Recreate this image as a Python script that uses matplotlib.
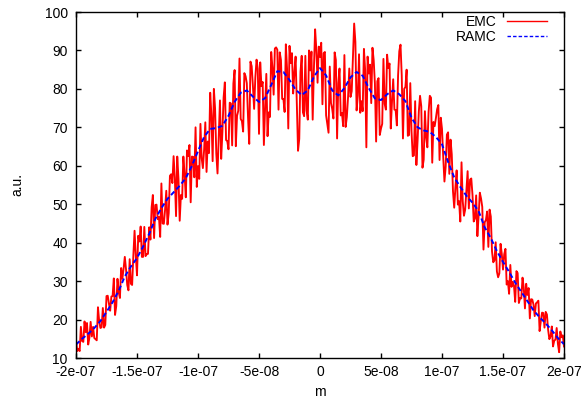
import numpy as np
import matplotlib
matplotlib.use("Agg")
import matplotlib.pyplot as plt

plt.rcParams['font.family'] = ['Liberation Sans', 'DejaVu Sans']
plt.rcParams['font.size'] = 10

x_min, x_max = -2e-7, 2e-7

# EMC samples at x = -200, -198, ..., 200 (nm)
emc_even = [
    14.9, 12.4, 18.1, 14.2, 16.7, 13.5, 19.4, 18.1, 14.9, 23.2,
    17.8, 23.0, 18.6, 26.2, 22.3, 26.1, 21.2, 30.6, 25.6, 30.6,
    36.3, 29.0, 35.7, 29.0, 43.1, 31.5, 40.3, 36.3, 44.1, 37.0,
    44.0, 49.2, 41.2, 49.9, 46.7, 55.4, 44.9, 53.5, 47.7, 57.8,
    62.5, 46.9, 56.6, 52.4, 62.4, 51.8, 62.5, 50.5, 62.3, 70.0,
    59.9, 70.9, 59.4, 71.3, 66.3, 79.0, 61.2, 74.9, 58.0, 77.0,
    68.7, 81.7, 66.4, 76.4, 65.3, 84.9, 73.0, 87.9, 71.6, 84.1,
    81.5, 65.7, 85.9, 74.8, 87.6, 68.3, 80.7, 65.4, 83.9, 73.9,
    89.6, 78.5, 90.8, 74.6, 87.5, 77.4, 91.6, 69.7, 86.7, 78.8,
    88.4, 63.9, 84.4, 73.9, 88.6, 72.0, 84.8, 72.0, 95.5, 81.6,
    88.3, 76.0, 89.6, 70.9, 85.8, 74.8, 89.5, 67.1, 85.3, 73.7,
    88.8, 72.7, 85.3, 79.4, 97.0, 74.4, 89.0, 76.8, 90.4, 64.8,
    84.0, 76.3, 87.5, 66.3, 82.8, 69.7, 87.8, 74.6, 85.4, 69.7,
    82.5, 74.5, 83.5, 91.5, 67.1, 80.5, 67.8, 81.5, 62.5, 76.8,
    66.6, 78.2, 59.5, 74.2, 64.8, 78.2, 60.8, 70.3, 74.7, 61.5,
    69.6, 55.9, 68.1, 57.9, 63.0, 49.1, 58.8, 50.8, 60.9, 47.0,
    53.5, 48.9, 56.7, 45.5, 52.3, 46.9, 51.5, 38.2, 45.9, 38.9,
    46.8, 34.9, 40.1, 31.0, 39.7, 33.0, 38.4, 30.0, 34.2, 29.8,
    24.6, 32.1, 25.6, 30.9, 22.9, 26.4, 20.3, 25.2, 20.9, 24.5,
    17.0, 21.8, 17.9, 21.3, 14.9, 18.2, 14.5, 17.8, 11.5, 15.4,
    13.0,
]

# EMC samples at x = -199, -197, ..., 199 (nm)
emc_odd = [
    11.8, 11.8, 14.4, 19.5, 19.1, 15.3, 15.6, 15.2, 14.6, 19.6,
    18.0, 17.9, 26.1, 24.1, 26.0, 30.7, 23.5, 27.1, 33.4, 33.2,
    33.1, 27.6, 29.3, 36.6, 36.6, 41.8, 44.2, 36.3, 36.5, 37.1,
    40.8, 52.4, 49.8, 46.1, 41.5, 45.0, 48.5, 44.7, 57.4, 55.5,
    56.9, 62.4, 45.7, 51.4, 57.8, 64.0, 65.4, 62.4, 57.0, 54.5,
    56.6, 62.0, 64.1, 58.4, 63.3, 73.0, 80.0, 63.1, 67.5, 61.8,
    77.8, 66.7, 64.3, 76.2, 81.4, 65.1, 74.3, 72.2, 68.9, 83.3,
    72.7, 87.1, 80.8, 83.0, 85.2, 86.9, 81.8, 75.1, 67.7, 72.7,
    85.6, 90.5, 90.2, 89.5, 77.4, 74.0, 85.2, 91.2, 89.3, 84.3,
    76.5, 67.0, 88.6, 72.9, 74.4, 90.0, 89.7, 85.1, 90.2, 91.0,
    92.0, 89.3, 73.1, 68.6, 76.3, 72.3, 87.5, 81.5, 73.1, 70.3,
    70.1, 77.9, 77.9, 88.0, 92.2, 78.2, 73.8, 74.2, 84.9, 88.4,
    86.3, 90.7, 81.4, 82.0, 68.0, 70.9, 76.1, 88.9, 86.6, 76.6,
    74.6, 70.5, 89.8, 83.5, 80.0, 85.0, 68.0, 69.1, 62.7, 60.2,
    74.1, 75.5, 61.6, 67.3, 74.0, 77.7, 71.4, 72.4, 75.8, 72.5,
    62.3, 59.7, 68.7, 66.8, 53.4, 54.4, 49.9, 45.5, 50.8, 48.6,
    58.6, 56.4, 52.4, 46.3, 41.7, 53.0, 49.3, 45.3, 48.1, 48.6,
    37.7, 35.4, 32.5, 32.0, 37.1, 37.0, 29.1, 26.7, 28.5, 28.8,
    32.6, 24.3, 25.5, 28.3, 29.3, 28.2, 25.3, 23.9, 24.2, 24.9,
    19.6, 21.7, 22.0, 17.3, 15.6, 13.0, 14.8, 13.7, 16.9, 15.9,
]

ramc = [
    13.5, 15.0, 16.3, 17.8, 19.6, 22.0, 24.5, 27.5, 31.2, 33.8,
    36.0, 39.0, 42.3, 46.2, 49.0, 51.4, 53.1, 54.8, 56.8, 60.0,
    63.8, 67.5, 69.6, 69.8, 70.4, 73.0, 76.6, 79.0, 79.6, 78.0,
    76.6, 77.6, 81.0, 84.6, 84.4, 82.3, 79.8, 78.4, 79.6, 83.2,
    85.4, 83.5, 79.6, 78.3, 80.2, 83.0, 84.4, 83.4, 80.2, 77.5,
    77.1, 78.6, 79.6, 78.6, 76.8, 72.5, 70.0, 69.2, 68.8, 67.5,
    65.6, 61.0, 57.0, 54.5, 52.2, 50.4, 48.2, 44.0, 41.2, 37.8,
    35.0, 32.4, 29.6, 27.2, 24.8, 22.4, 20.6, 19.0, 17.2, 15.2,
    13.6,
]

emc = np.empty(len(emc_even) + len(emc_odd))
emc[0::2] = emc_even
emc[1::2] = emc_odd

x_emc = np.linspace(x_min, x_max, len(emc))
x_ramc = np.linspace(x_min, x_max, len(ramc))

xticks = [-2e-7, -1.5e-7, -1e-7, -5e-8, 0, 5e-8, 1e-7, 1.5e-7, 2e-7]
xticklabels = ['-2e-07', '-1.5e-07', '-1e-07', '-5e-08', '0', '5e-08', '1e-07', '1.5e-07', '2e-07']
yticks = [10, 20, 30, 40, 50, 60, 70, 80, 90, 100]

W, H = 584, 404
fig = plt.figure(figsize=(W / 100, H / 100), dpi=100)
ax = fig.add_axes([76 / W, 1 - 358 / H, (564 - 76) / W, (358 - 12) / H])

ax.plot(x_emc, emc, color='#ff0000', lw=1.35, label='EMC')
ax.plot(x_ramc, ramc, color='#0000ff', lw=1.4, ls=(0, (2.5, 1.5)), label='RAMC')

ax.set_xlim(x_min, x_max)
ax.set_ylim(10, 100)
ax.set_xticks(xticks)
ax.set_xticklabels(xticklabels)
ax.set_yticks(yticks)
ax.tick_params(direction='in', length=3.6, width=1, top=True, right=True,
               labelsize=10, colors='black')
ax.tick_params(axis='x', pad=5)
ax.tick_params(axis='y', pad=6)
for s in ax.spines.values():
    s.set_linewidth(1)

fig.text(320 / W, 1 - 392 / H, 'm', ha='center', va='center', fontsize=10)
fig.text(17 / W, 1 - 185 / H, 'a.u.', ha='center', va='center', rotation=90, fontsize=10)

leg = ax.legend(loc='upper right', bbox_to_anchor=(547 / W, 1 - 15 / H),
                bbox_transform=fig.transFigure, frameon=False, markerfirst=False,
                handlelength=2.9, handletextpad=0.7, labelspacing=0.05,
                borderpad=0, borderaxespad=0, fontsize=10)
for line in leg.get_lines():
    line.set_linewidth(1.0)

fig.savefig('out.png', dpi=100)
